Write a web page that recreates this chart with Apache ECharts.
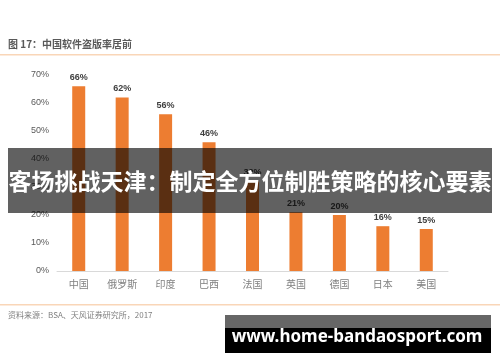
<!DOCTYPE html>
<html>
<head>
<meta charset="utf-8">
<script src="https://cdn.jsdelivr.net/npm/echarts@6/dist/echarts.min.js"></script>
<style>
html,body{margin:0;padding:0;background:#fff;}
#c{width:500px;height:362px;}
</style>
</head>
<body>
<div id="c"></div>
<script>
var categories = ['中国','俄罗斯','印度','巴西','法国','英国','德国','日本','美国'];
var piracyRate = [66,62,56,46,32,21,20,16,15];
var yTicks = [0,10,20,30,40,50,60,70];
var titleText = '图 17：中国软件盗版率居前';
var sourceText = '资料来源：BSA、天风证券研究所，2017';
var bannerText = '客场挑战天津：制定全方位制胜策略的核心要素';
var watermarkText = 'www.home-bandaosport.com';

var chart = echarts.init(document.getElementById('c'));
var font = '"Noto Sans CJK SC", "Noto Sans", sans-serif';
chart.setOption({
  backgroundColor: '#fff',
  animation: false,
  textStyle: {fontFamily: font},
  grid: {left: 57, right: 52, top: 75, bottom: 91, containLabel: false},
  xAxis: {
    type: 'category',
    data: categories,
    axisLine: {lineStyle: {color: '#d9d9d9', width: 1}},
    axisTick: {show: false},
    axisLabel: {color: '#7f7f7f', fontSize: 10, margin: 8, fontFamily: font}
  },
  yAxis: {
    type: 'value',
    min: yTicks[0], max: yTicks[yTicks.length-1], interval: 10,
    axisLine: {show: false},
    axisTick: {show: false},
    splitLine: {show: false},
    axisLabel: {color: '#595959', fontSize: 9, margin: 8, formatter: '{value}%', fontFamily: 'Liberation Sans, Arial, sans-serif'}
  },
  series: [{
    type: 'bar',
    data: piracyRate,
    barWidth: 13,
    itemStyle: {color: '#ED7D31'},
    label: {show: true, position: 'top', formatter: '{c}%', color: '#404040', fontSize: 9, fontWeight: 'bold', distance: 4, fontFamily: 'Liberation Sans, Arial, sans-serif'}
  }],
  graphic: [
    {type: 'text', left: 8, top: 39, style: {text: titleText, fill: '#595959', font: 'bold 10px ' + font}},
    {type: 'rect', left: 0, top: 54, shape: {width: 500, height: 1.5}, style: {fill: '#f9d6b8'}},
    {type: 'rect', left: 0, top: 304, shape: {width: 500, height: 1.5}, style: {fill: '#f9d6b8'}},
    {type: 'text', left: 8, top: 311, style: {text: sourceText, fill: '#7f7f7f', font: '8px ' + font}},
    {type: 'rect', left: 8, top: 148, z: 100, shape: {width: 484, height: 65}, style: {fill: 'rgba(0,0,0,0.62)'}},
    {type: 'text', x: 250, y: 181, z: 101, style: {text: bannerText, fill: '#fff', font: 'bold 23px ' + font, textAlign: 'center', textVerticalAlign: 'middle'}},
    {type: 'rect', left: 225, top: 315, z: 100, shape: {width: 266, height: 13}, style: {fill: '#666'}},
    {type: 'rect', left: 225, top: 328, z: 100, shape: {width: 266, height: 25}, style: {fill: '#000'}},
    {type: 'text', x: 357, y: 337, z: 101, style: {text: watermarkText, fill: '#fff', font: 'bold 17px "Noto Sans", sans-serif', textAlign: 'center', textVerticalAlign: 'middle'}}
  ]
});
</script>
</body>
</html>
